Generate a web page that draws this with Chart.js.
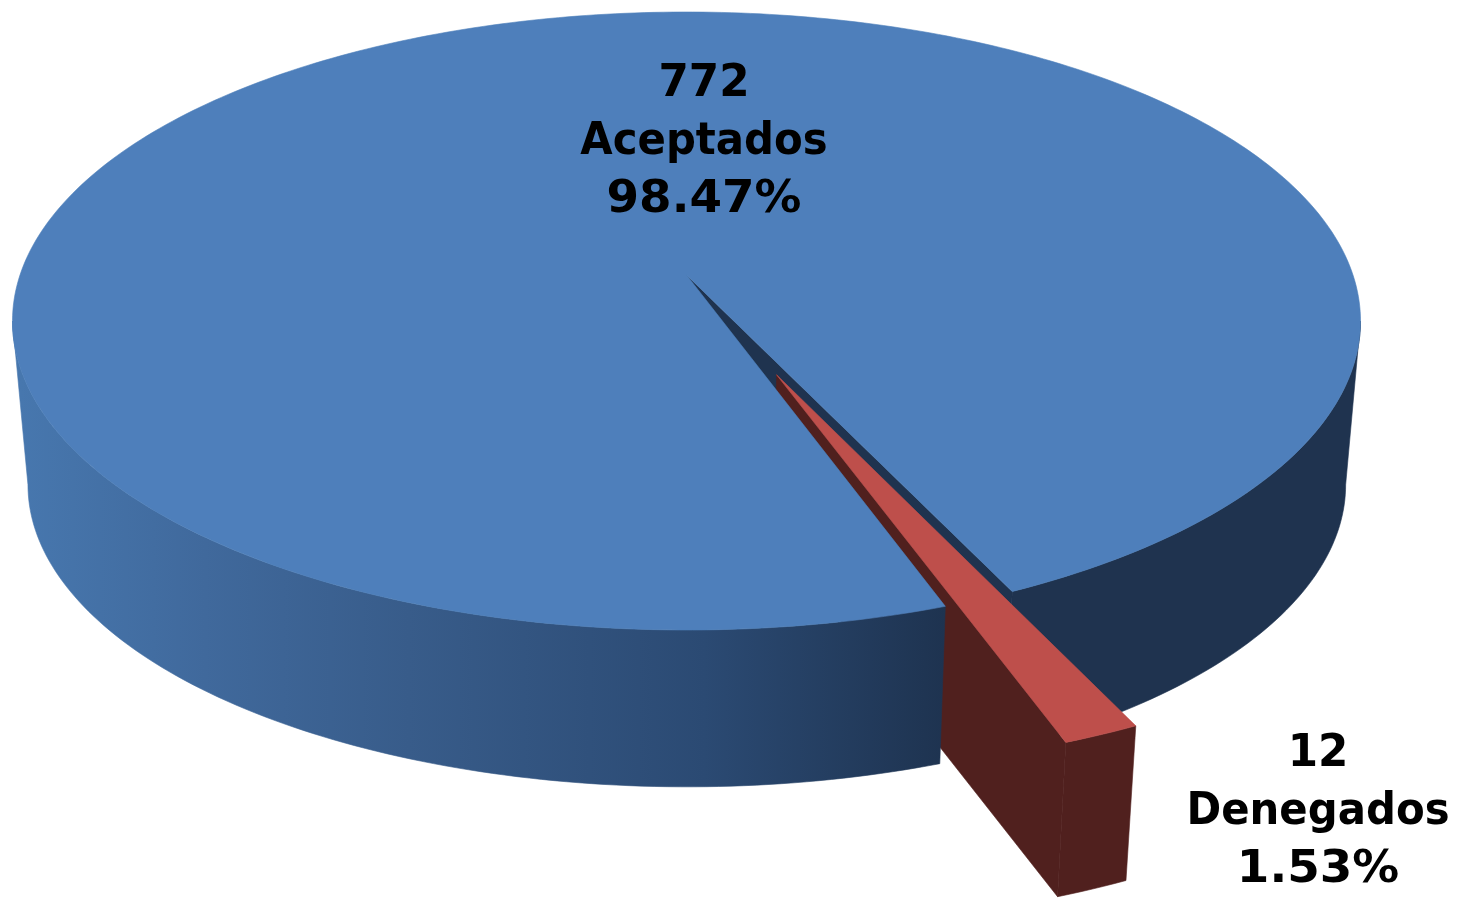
<!DOCTYPE html>
<html>
<head>
<meta charset="utf-8">
<title>Aceptados / Denegados</title>
<script src="https://cdn.jsdelivr.net/npm/chart.js@4"></script>
<style>
  html, body { margin: 0; padding: 0; background: #fff; overflow: hidden; }
  canvas { display: block; }
</style>
</head>
<body>
<canvas id="myChart" width="1459" height="898"></canvas>
<script>
const categories = ['Aceptados', 'Denegados'];
const counts = [772, 12];
const percents = ['98.47%', '1.53%'];

// tilted pie: maps the unit disc onto the screen, fitted to the picture
const view = { x0: 686.5, k: 666.5, a: 261.2, b: 275, c: 0.1489 };
const vanish = { x: 700, y: 7600, scale: 0.9775 };

const project = (u, v) => {
  const w = 1 - view.c * v;
  return { x: view.x0 + view.k * u / w, y: (view.a * v + view.b) / w };
};
const lower = (p) => ({
  x: vanish.x + vanish.scale * (p.x - vanish.x),
  y: vanish.y + vanish.scale * (p.y - vanish.y),
});

const rimPoints = (el, from, to) => {
  const off = el.options.offset / el.outerRadius;
  const mid = (el.startAngle + el.endAngle) / 2;
  const ox = off * Math.cos(mid), oy = off * Math.sin(mid);
  const pts = [];
  const steps = Math.max(2, Math.ceil(Math.abs(to - from) * 60));
  for (let i = 0; i <= steps; i++) {
    const a = from + (to - from) * i / steps;
    pts.push(project(ox + Math.cos(a), oy + Math.sin(a)));
  }
  return pts;
};
const apex = (el) => {
  const off = el.options.offset / el.outerRadius;
  const mid = (el.startAngle + el.endAngle) / 2;
  return project(off * Math.cos(mid), off * Math.sin(mid));
};
const fillPoly = (ctx, pts, fill) => {
  ctx.beginPath();
  pts.forEach((p, i) => i ? ctx.lineTo(p.x, p.y) : ctx.moveTo(p.x, p.y));
  ctx.closePath();
  ctx.fillStyle = fill;
  ctx.fill();
  ctx.strokeStyle = fill;
  ctx.lineWidth = 0.6;
  ctx.stroke();
};
const wall = (ctx, el, from, to, fill) => {
  const top = rimPoints(el, from, to);
  fillPoly(ctx, top.concat(top.map(lower).reverse()), fill);
};
const face = (ctx, el, angle, fill) => {
  const a = apex(el);
  const e = rimPoints(el, angle, angle)[0];
  fillPoly(ctx, [a, e, lower(e), lower(a)], fill);
};
const topFace = (ctx, el) => {
  fillPoly(ctx, [apex(el)].concat(rimPoints(el, el.startAngle, el.endAngle)), el.options.backgroundColor);
};

const tiltedPie = {
  id: 'tiltedPie',
  beforeDatasetDraw(chart, args) {
    const ctx = chart.ctx;
    const [blue, red] = chart.getDatasetMeta(args.index).data;
    // where the rim is widest on screen, the walls stop there
    const side = Math.asin(view.c);

    const leftWall = ctx.createLinearGradient(20, 0, 945, 0);
    leftWall.addColorStop(0, '#4777AE');
    leftWall.addColorStop(0.2, '#40699C');
    leftWall.addColorStop(0.42, '#385C8A');
    leftWall.addColorStop(0.74, '#2B4A73');
    leftWall.addColorStop(1, '#1E3350');

    // back to front
    wall(ctx, blue, Math.PI * 2 + side, blue.endAngle, '#1F334F');
    face(ctx, blue, blue.endAngle, '#1F334F');
    face(ctx, red, red.endAngle, '#50201E');
    wall(ctx, red, red.startAngle, red.endAngle, '#50201E');
    topFace(ctx, red);
    wall(ctx, blue, blue.startAngle, Math.PI - side, leftWall);
    topFace(ctx, blue);
    return false;
  },
  afterDatasetsDraw(chart) {
    const ctx = chart.ctx;
    const spots = [{ x: 704, y: 96 }, { x: 1318, y: 766 }];
    const stretch = [0.97, 0.93, 1.04];
    ctx.save();
    ctx.fillStyle = '#000';
    ctx.textAlign = 'center';
    ctx.textBaseline = 'alphabetic';
    ctx.font = 'bold 45px "DejaVu Sans"';
    categories.forEach((name, i) => {
      [String(counts[i]), name, percents[i]].forEach((line, n) => {
        ctx.save();
        ctx.translate(spots[i].x, spots[i].y + n * 58);
        ctx.scale(stretch[n], 1);
        ctx.fillText(line, 0, 0);
        ctx.restore();
      });
    });
    ctx.restore();
  },
};

new Chart(document.getElementById('myChart').getContext('2d'), {
  type: 'pie',
  data: {
    labels: categories,
    datasets: [{
      data: counts,
      backgroundColor: ['#4E7FBB', '#BE4F4B'],
      borderWidth: 0,
      offset: [0, 102],
    }],
  },
  options: {
    responsive: false,
    animation: false,
    rotation: 160.5,
    radius: 300,
    plugins: { legend: { display: false }, tooltip: { enabled: false } },
  },
  plugins: [tiltedPie],
});
</script>
</body>
</html>
